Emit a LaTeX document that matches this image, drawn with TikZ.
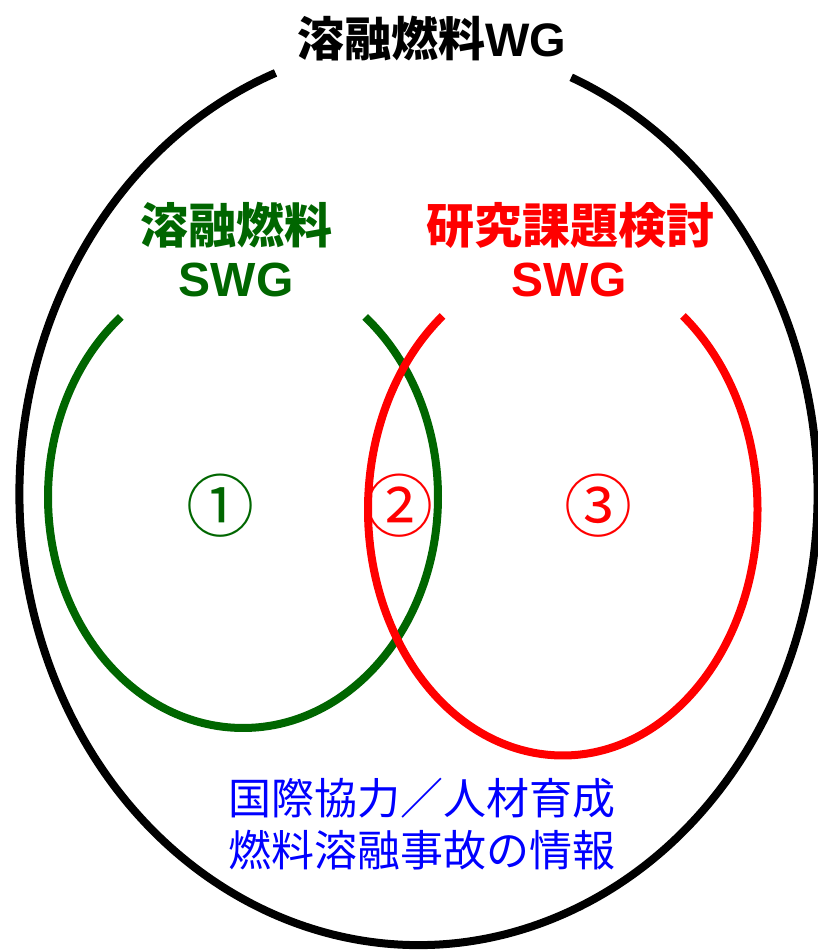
\documentclass[tikz,border=0pt]{standalone}
\usepackage{fontspec}
\setmainfont{Liberation Sans}
\newfontfamily\cjk{Noto Sans CJK JP}
\usetikzlibrary{calc}
\definecolor{swggreen}{RGB}{0,102,0}
\definecolor{swgred}{RGB}{255,0,0}
\definecolor{infoblue}{RGB}{0,0,255}
\begin{document}
\begin{tikzpicture}[x=1pt,y=1pt,
  ring/.style={line width=8pt},
  lbl/.style={inner sep=0pt, anchor=base, font=\bfseries\fontsize{48}{58}\selectfont},
  info/.style={inner sep=0pt, anchor=base, text=infoblue, font=\cjk\fontsize{43}{52}\selectfont},
  num/.style={inner sep=0pt, anchor=base, font=\cjk\fontsize{68}{80}\selectfont}]
\useasboundingbox (0,0) rectangle (818,952);
% outer WG ellipse
\draw[ring, black] ($(418.5,458)+(111:399pt and 451pt)$)
  arc[start angle=111, end angle=427.5, x radius=399pt, y radius=451pt];
% green SWG ellipse
\draw[ring, swggreen] ($(243,455)+(128.8:195pt and 231pt)$)
  arc[start angle=128.8, end angle=411.2, x radius=195pt, y radius=231pt];
% red SWG ellipse
\draw[ring, swgred] ($(562.75,442.5)+(128.1:194.75pt and 246pt)$)
  arc[start angle=128.1, end angle=411.9, x radius=194.75pt, y radius=246pt];
% titles
\node[lbl, font=\bfseries\fontsize{47}{56}\selectfont] (title) at (431.5,895) {{\cjk 溶融燃料}WG};
\node[lbl, text=swggreen] (g1) at (236.5,708) {\cjk 溶融燃料};
\node[lbl, text=swggreen] (g2) at (236,655) {SWG};
\node[lbl, text=swgred] (r1) at (570,708) {\cjk 研究課題検討};
\node[lbl, text=swgred] (r2) at (569,655) {SWG};
% region numbers
\node[num, text=swggreen] (n1) at (220,420) {①};
\node[num, text=swgred] (n2) at (399,420) {②};
\node[num, text=swgred] (n3) at (598.5,420) {③};
% info text
\node[info] (b1) at (422,137) {国際協力／人材育成};
\node[info] (b2) at (422,85) {燃料溶融事故の情報};
\end{tikzpicture}
\end{document}
